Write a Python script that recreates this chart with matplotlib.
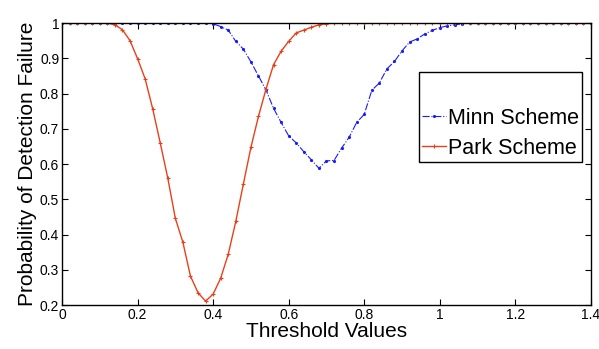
import numpy as np
import matplotlib.pyplot as plt

plt.rcParams['font.family'] = ['Liberation Sans', 'DejaVu Sans']

threshold = np.round(np.arange(0, 1.4001, 0.02), 2)

minn = [1.0] * 20 + [
    0.998, 0.99, 0.98, 0.948, 0.926, 0.89, 0.85, 0.81, 0.758, 0.718,   # 0.40 - 0.58
    0.68, 0.66, 0.635, 0.612, 0.588, 0.609, 0.61, 0.645, 0.676, 0.718,  # 0.60 - 0.78
    0.741, 0.809, 0.83, 0.87, 0.891, 0.921, 0.946, 0.955, 0.969, 0.979, # 0.80 - 0.98
    0.987, 0.992, 0.995, 0.998]                                          # 1.00 - 1.06
minn = minn + [1.0] * (len(threshold) - len(minn))

park = [1.0] * 7 + [
    0.995, 0.981, 0.95, 0.899, 0.842, 0.757, 0.66, 0.56, 0.446, 0.378,  # 0.14 - 0.32
    0.282, 0.235, 0.211, 0.231, 0.276, 0.344, 0.437, 0.543, 0.647, 0.735,  # 0.34 - 0.52
    0.8125, 0.882, 0.92, 0.948, 0.972, 0.98, 0.988, 0.995, 0.998]       # 0.54 - 0.70
park = park + [1.0] * (len(threshold) - len(park))

fig = plt.figure(figsize=(5.99, 3.49), dpi=100)
ax = fig.add_axes([0.1035, 0.126, 0.883, 0.808])

ax.plot(threshold, minn, color='#1a1aff', linestyle='-.', marker='.', markersize=2.5,
        linewidth=0.8, label='Minn Scheme')
ax.plot(threshold, park, color='#e8401c', linestyle='-', marker='+', markersize=3,
        markeredgewidth=0.8, linewidth=1.0, label='Park Scheme')

ax.set_xlim(0, 1.4)
ax.set_ylim(0.2, 1.0)
ax.set_xticks(np.arange(0, 1.41, 0.2))
ax.set_xticklabels(['0', '0.2', '0.4', '0.6', '0.8', '1', '1.2', '1.4'])
ax.set_yticks(np.arange(0.2, 1.01, 0.1))
ax.set_yticklabels(['0.2', '0.3', '0.4', '0.5', '0.6', '0.7', '0.8', '0.9', '1'])
ax.tick_params(direction='in', top=True, right=True, labelsize=10, length=4, pad=2)
for s in ax.spines.values():
    s.set_linewidth(1.0)

ax.set_xlabel('Threshold Values', fontsize=15, labelpad=0)
ax.set_ylabel('Probability of Detection Failure', fontsize=15, labelpad=2)

leg = ax.legend(loc='upper right', bbox_to_anchor=(0.983, 0.826), fontsize=15.5,
                title=' ', title_fontsize=18, fancybox=False, framealpha=1,
                edgecolor='black', handlelength=1.1, handletextpad=0.1,
                borderpad=0.15, labelspacing=0.4, borderaxespad=0)
leg.get_frame().set_linewidth(1.0)

fig.savefig('out.png', dpi=100)
